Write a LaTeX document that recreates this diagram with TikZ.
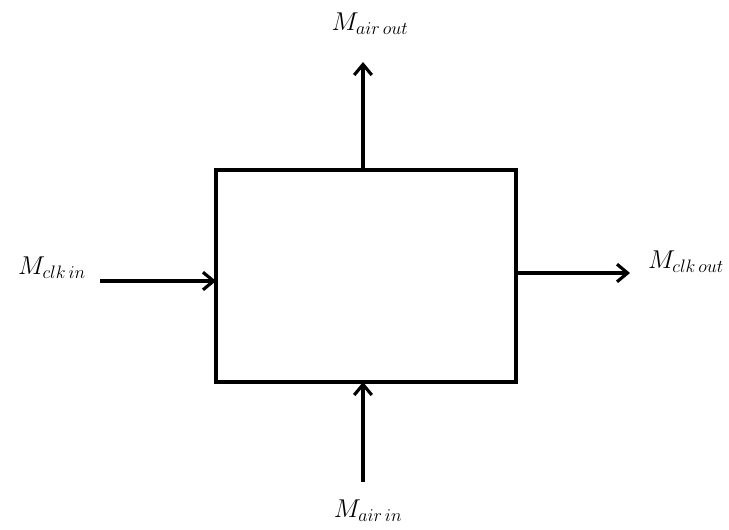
\RequirePackage{fix-cm}
\documentclass[tikz,border=0pt]{standalone}
\usepackage{amsmath}
\usetikzlibrary{positioning, arrows.meta}

\tikzset{
  flow/.style={line width=2.7pt, -{Straight Barb[length=9pt, width=15pt, line width=2.7pt]}},
  lbl/.style={font=\fontsize{22}{26}\selectfont}
}

\begin{document}
\begin{tikzpicture}[x=0.03cm, y=-0.03cm]

\useasboundingbox (0,0) rectangle (729,529);

\node[draw, line width=3.8pt, outer sep=0pt, minimum width=9cm, minimum height=6.36cm] (proc) at (366,276) {};

\node[lbl] (airout) at (370,24) {$M_{air\,out}$};
\node[lbl] (clkin) at (52,268) {$M_{clk\,in}$};
\node[lbl] (clkout) at (686,262) {$M_{clk\,out}$};
\node[lbl] (airin) at (368,511) {$M_{air\,in}$};

\coordinate (topend) at (363,62);
\coordinate (leftstart) at (100,281);
\coordinate (rightend) at (630,273);
\coordinate (botstart) at (363,482);

\draw[flow] (proc.north -| topend) -- (topend);
\draw[flow] (leftstart) -- (leftstart -| proc.west);
\draw[flow] (proc.east |- rightend) -- (rightend);
\draw[flow] (botstart) -- (botstart |- proc.south);

\end{tikzpicture}
\end{document}
